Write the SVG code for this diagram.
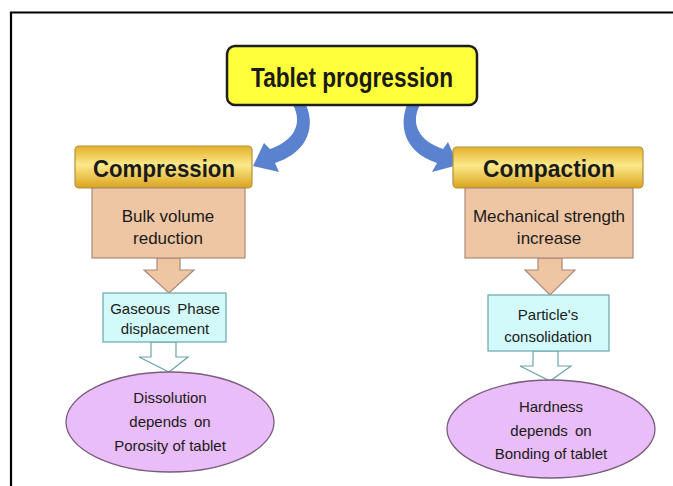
<svg xmlns="http://www.w3.org/2000/svg" width="673" height="486" viewBox="0 0 673 486">
<defs>
<linearGradient id="gold" x1="0" y1="0" x2="0" y2="1">
<stop offset="0" stop-color="#e2b12a"/>
<stop offset="0.45" stop-color="#fbe98a"/>
<stop offset="1" stop-color="#d9a31c"/>
</linearGradient>
<style>
.t{font-family:"Liberation Sans",Arial,sans-serif;text-anchor:middle;fill:#1a1a1a}
.b{font-weight:bold}
.gold{fill:url(#gold);stroke:#b89040;stroke-width:1.2}
.tan{fill:#efc6a4;stroke:#a88a78;stroke-width:1.2}
.cyan{fill:#d2fafa;stroke:#6aa6aa;stroke-width:1.2}
.oarrow{fill:#ffffff;stroke:#6aa6aa;stroke-width:1.2}
.ell{fill:#e9bdf7;stroke:#7a5c7e;stroke-width:1.3}
.blue{fill:#5b82cf}
</style>
</defs>
<rect width="673" height="486" fill="#ffffff"/>
<path d="M11,486 V12.5 H673" fill="none" stroke="#000" stroke-width="2.2"/>

<g id="connectors">
<path class="blue" d="M293,105 C301,119 299,139 270,149 L264,143 L253,166 L279,172 L275,163 C312,151 314,122 306,105 Z"/>
<path class="blue" d="M420,105 C412,119 414,139 443,149 L448,142 L458,165 L432,172 L437,163 C401,151 400,122 407,105 Z"/>
<path class="tan" d="M157,258 H180 V270 H194 L169,293 L144,270 H157 Z"/>
<path class="tan" d="M538,258 H562 V270 H575 L550,295 L525,270 H538 Z"/>
<path class="oarrow" d="M151,342 H176 V357 H188 L169,372 L139,357 H151 Z"/>
<path class="oarrow" d="M533,351 H558 V366 H571 L550,381 L520,366 H533 Z"/>
</g>

<g id="tablet-progression">
<rect x="227" y="46" width="250" height="59" rx="8" fill="#ffff3c" stroke="#1e1e1e" stroke-width="2.5"/>
<text class="t b" x="352" y="87" font-size="27" textLength="202" lengthAdjust="spacingAndGlyphs">Tablet progression</text>
</g>

<g id="compression">
<rect class="gold" x="75" y="146" width="177" height="42" rx="4"/>
<text class="t b" x="164" y="177" font-size="24" textLength="142" lengthAdjust="spacingAndGlyphs">Compression</text>
</g>
<g id="compaction">
<rect class="gold" x="453" y="147" width="190" height="41" rx="4"/>
<text class="t b" x="549" y="177" font-size="24" textLength="132" lengthAdjust="spacingAndGlyphs">Compaction</text>
</g>

<g id="bulk-volume">
<rect class="tan" x="92" y="188" width="153" height="70"/>
<text class="t" x="168" y="222" font-size="17">Bulk volume</text>
<text class="t" x="168" y="244" font-size="17">reduction</text>
</g>
<g id="mechanical-strength">
<rect class="tan" x="465" y="188" width="168" height="70"/>
<text class="t" x="549" y="222" font-size="17">Mechanical strength</text>
<text class="t" x="549" y="244" font-size="17">increase</text>
</g>

<g id="gaseous-phase">
<rect class="cyan" x="103" y="293" width="123" height="49"/>
<text class="t" x="165" y="314" font-size="15" word-spacing="3">Gaseous Phase</text>
<text class="t" x="165" y="334" font-size="15">displacement</text>
</g>
<g id="particles">
<rect class="cyan" x="488" y="295" width="121" height="56"/>
<text class="t" x="548" y="320" font-size="15">Particle's</text>
<text class="t" x="548" y="342" font-size="15">consolidation</text>
</g>

<g id="dissolution">
<ellipse class="ell" cx="170" cy="422" rx="104" ry="50"/>
<text class="t" x="170" y="403" font-size="15">Dissolution</text>
<text class="t" x="170" y="427" font-size="15" word-spacing="3">depends on</text>
<text class="t" x="170" y="451" font-size="15">Porosity of tablet</text>
</g>
<g id="hardness">
<ellipse class="ell" cx="551" cy="429" rx="104" ry="49"/>
<text class="t" x="551" y="412" font-size="15">Hardness</text>
<text class="t" x="551" y="436" font-size="15" word-spacing="3">depends on</text>
<text class="t" x="551" y="459" font-size="15">Bonding of tablet</text>
</g>
</svg>
